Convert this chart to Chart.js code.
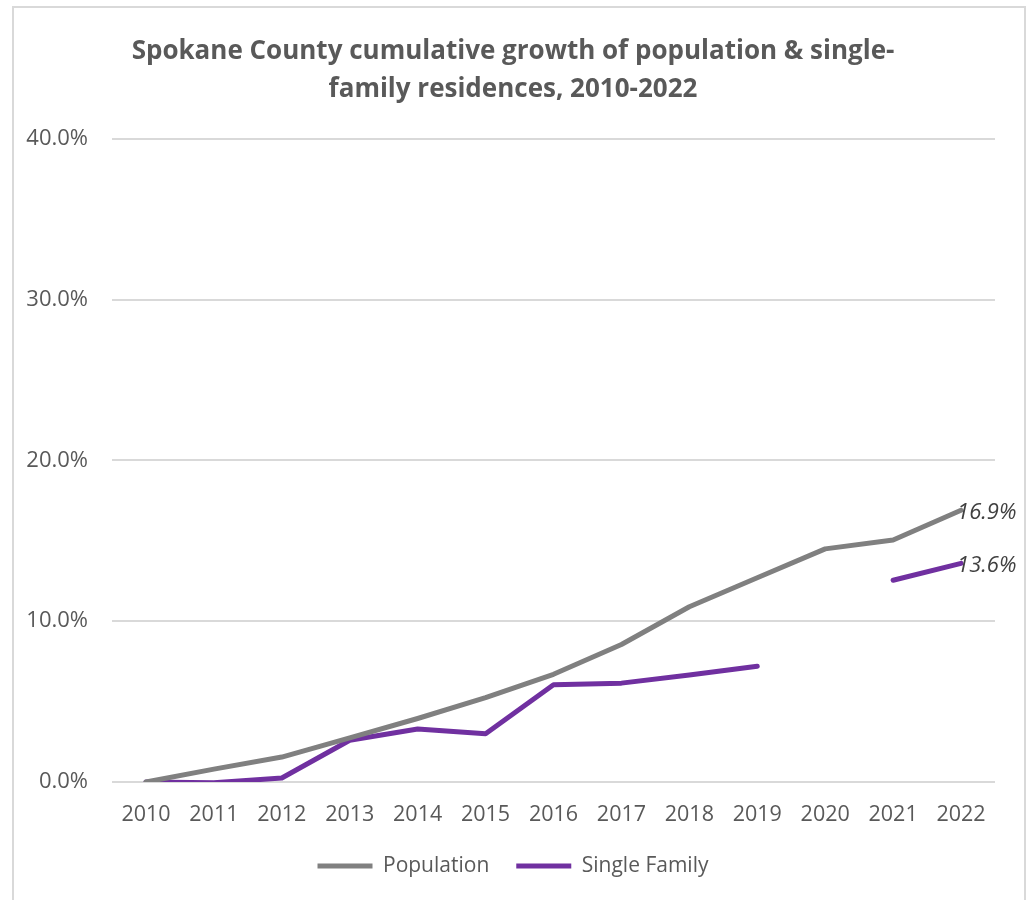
<!DOCTYPE html>
<html lang="en">
<head>
    <meta charset="UTF-8">
    <title>Spokane County cumulative growth</title>
    <script src="https://cdn.jsdelivr.net/npm/chart.js"></script>
    <style>
        body { margin: 0; background: #fff; }
        .frame {
            position: absolute;
            left: 12px;
            top: 6px;
            width: 1010px;
            height: 894px;
            border: 2px solid #d9d9d9;
            border-bottom: none;
        }
    </style>
</head>
<body>
<div class="frame">
    <canvas id="growthChart"></canvas>
</div>
<script>
    // cumulative growth since 2010, in percent
    const years = ['2010', '2011', '2012', '2013', '2014', '2015', '2016', '2017', '2018', '2019', '2020', '2021', '2022'];
    const population = [0, 0.8, 1.55, 2.75, 3.95, 5.25, 6.7, 8.55, 10.9, 12.7, 14.5, 15.05, 16.9];
    const singleFamily = [0, -0.05, 0.25, 2.6, 3.3, 3.0, 6.05, 6.15, 6.65, 7.2, null, 12.55, 13.6];
    const yTicks = [0, 10, 20, 30, 40];

    const FONT = "'Open Sans', sans-serif";
    const TEXT = '#595959';

    // value label next to the last point of each line
    const lastValueLabels = {
        id: 'lastValueLabels',
        afterDatasetsDraw(chart) {
            const ctx = chart.ctx;
            ctx.save();
            ctx.font = 'italic 22px ' + FONT;
            ctx.fillStyle = '#404040';
            ctx.textAlign = 'left';
            ctx.textBaseline = 'middle';
            chart.data.datasets.forEach((ds, i) => {
                const meta = chart.getDatasetMeta(i);
                const idx = ds.data.length - 1;
                const pt = meta.data[idx];
                ctx.fillText(ds.data[idx].toFixed(1) + '%', pt.x - 4, pt.y + 2);
            });
            ctx.restore();
        }
    };

    new Chart(document.getElementById('growthChart'), {
        type: 'line',
        data: {
            labels: years,
            datasets: [{
                label: 'Population',
                data: population,
                borderColor: '#808080',
                backgroundColor: '#808080',
                borderWidth: 5,
                borderCapStyle: 'round',
                borderJoinStyle: 'round',
                pointRadius: 0,
                tension: 0
            }, {
                label: 'Single Family',
                data: singleFamily,
                borderColor: '#7030a0',
                backgroundColor: '#7030a0',
                borderWidth: 5,
                borderCapStyle: 'round',
                borderJoinStyle: 'round',
                pointRadius: 0,
                spanGaps: false,
                tension: 0
            }]
        },
        options: {
            responsive: true,
            maintainAspectRatio: false,
            animation: false,
            layout: { padding: { left: 0, right: 12, top: 0, bottom: 15.5 } },
            scales: {
                x: {
                    offset: true,
                    afterFit(scale) { scale.height = 46.5; },
                    grid: { display: false, drawTicks: false },
                    border: { display: false },
                    ticks: { color: TEXT, font: { family: FONT, size: 21.5 }, padding: 20, maxRotation: 0 }
                },
                y: {
                    min: 0,
                    max: 40,
                    afterFit(scale) { scale.width = 98; },
                    afterBuildTicks(scale) { scale.ticks = yTicks.map(v => ({ value: v })); },
                    grid: { color: '#d9d9d9', lineWidth: 2, drawTicks: false },
                    border: { display: false },
                    ticks: {
                        color: TEXT,
                        font: { family: FONT, size: 22 },
                        padding: 24,
                        callback: v => v.toFixed(1) + '%'
                    }
                },
                // empty right-hand axis, only keeps room for the value labels
                yRight: {
                    position: 'right',
                    display: true,
                    afterFit(scale) { scale.width = 17; },
                    grid: { display: false, drawTicks: false },
                    border: { display: false },
                    ticks: { display: false }
                }
            },
            plugins: {
                title: {
                    display: true,
                    text: ['Spokane County cumulative growth of population & single-', 'family residences, 2010-2022'],
                    color: TEXT,
                    font: { family: FONT, size: 26, weight: 'bold', lineHeight: 1.46 },
                    padding: { top: 25, bottom: 30 }
                },
                legend: {
                    position: 'bottom',
                    labels: {
                        color: TEXT,
                        font: { family: FONT, size: 21 },
                        usePointStyle: true,
                        pointStyle: 'line',
                        pointStyleWidth: 55,
                        padding: 27
                    }
                },
                tooltip: { enabled: false }
            }
        },
        plugins: [lastValueLabels]
    });
</script>
</body>
</html>
